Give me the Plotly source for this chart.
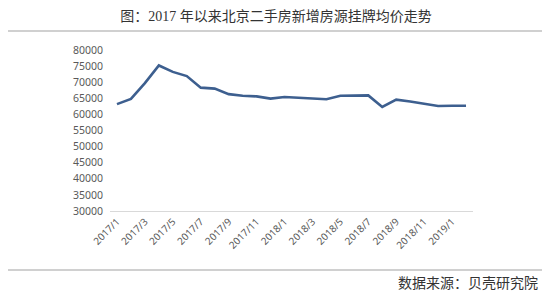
import plotly.graph_objects as go

months = ["2017/1","2017/2","2017/3","2017/4","2017/5","2017/6","2017/7","2017/8","2017/9","2017/10","2017/11","2017/12",
          "2018/1","2018/2","2018/3","2018/4","2018/5","2018/6","2018/7","2018/8","2018/9","2018/10","2018/11","2018/12",
          "2019/1","2019/2"]
prices = [63200, 64800, 69700, 75200, 73200, 71900, 68300, 68000, 66300, 65800, 65600, 64900,
          65400, 65100, 64800, 64700, 65800, 65900, 65900, 62300, 64600, 64000, 63200, 62600,
          62700, 62700]
tick_labels = months[::2]
y_ticks = list(range(30000, 80001, 5000))

title_text = "图：2017 年以来北京二手房新增房源挂牌均价走势"
source_text = "数据来源：贝壳研究院"

fig = go.Figure()
fig.add_trace(go.Scatter(x=months, y=prices, mode="lines",
                         line=dict(color="#3d5f8f", width=2.6), hoverinfo="skip"))

fig.update_layout(
    width=550, height=304,
    margin=dict(l=110, r=77, t=50, b=93),
    paper_bgcolor="white", plot_bgcolor="white",
    showlegend=False,
    title=dict(text=title_text, x=0.502, xanchor="center", y=1-16/304, yanchor="middle",
               font=dict(family="Liberation Serif, Noto Sans CJK SC", size=14, color="#333333")),
    xaxis=dict(type="category", categoryorder="array", categoryarray=months,
               range=[-0.5, len(months) - 0.5],
               tickmode="array", tickvals=tick_labels, ticktext=tick_labels,
               tickangle=-45, showgrid=False, showline=True, linecolor="#d9d9d9", linewidth=1,
               ticks="", zeroline=False,
               tickfont=dict(family="Noto Sans", size=10, color="#595959")),
    yaxis=dict(range=[30000, 80000], tickmode="array", tickvals=y_ticks,
               ticktext=[str(v) for v in y_ticks], showgrid=False, showline=False,
               zeroline=False, ticks="", ticklabelstandoff=6,
               tickfont=dict(family="Noto Sans", size=10.5, color="#595959")),
)

def px_x(p):
    return (p - 110) / 363
def px_y(p):
    return (211 - p) / 161

fig.add_shape(type="line", xref="paper", yref="paper", x0=px_x(8), x1=px_x(542), y0=px_y(31), y1=px_y(31),
              line=dict(color="#d0d0d0", width=2))
fig.add_shape(type="line", xref="paper", yref="paper", x0=px_x(8), x1=px_x(542), y0=px_y(270), y1=px_y(270),
              line=dict(color="#d0d0d0", width=2))
fig.add_annotation(text=source_text, xref="paper", yref="paper", x=px_x(540), y=px_y(283),
                   xanchor="right", yanchor="middle", showarrow=False,
                   font=dict(family="Liberation Serif, Noto Sans CJK SC", size=14, color="#333333"))

fig.write_html("out.html")
